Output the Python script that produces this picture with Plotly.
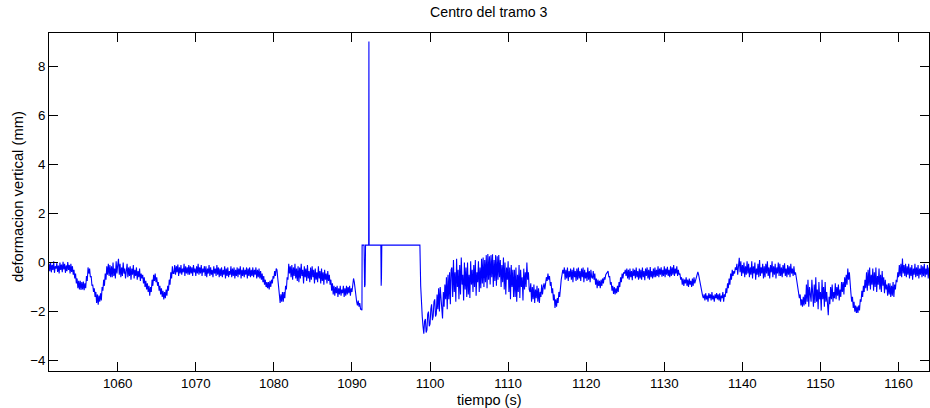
import numpy as np
import plotly.graph_objects as go

title_text = "Centro del tramo 3"
x_label = "tiempo (s)"
y_label = "deformacion vertical (mm)"
x_ticks = [1060, 1070, 1080, 1090, 1100, 1110, 1120, 1130, 1140, 1150, 1160]
y_ticks = [-4, -2, 0, 2, 4, 6, 8]
x_range = [1051.2, 1163.9]
y_range = [-4.42, 9.35]

sample_dt = 0.1   # seconds between samples
row_span = 2.0    # each row = 20 samples (2 s)

# deflection before the sensor event, rows start at 1051.2 s
pre_t0 = 1051.2
pre_rows = [
    [-0.05, -0.35, 0.02, -0.40, -0.10, -0.30, 0.05, -0.42, -0.15, -0.25, -0.02, -0.38, -0.12, -0.45, 0.00, -0.30, -0.08, -0.40, 0.03, -0.28],
    [-0.05, -0.42, -0.12, -0.35, 0.02, -0.30, -0.10, -0.45, -0.05, -0.38, -0.15, -0.50, -0.30, -0.65, -0.45, -0.85, -0.65, -1.05, -0.75, -1.10],
    [-0.75, -1.12, -0.80, -1.10, -0.78, -1.13, -0.85, -1.05, -0.55, -0.75, -0.20, -0.45, -0.25, -0.60, -0.55, -0.95, -0.90, -1.20, -1.05, -1.40],
    [-1.20, -1.65, -1.30, -1.72, -1.35, -1.60, -1.25, -1.55, -1.00, -1.15, -0.70, -0.95, -0.45, -0.70, -0.15, -0.50, -0.05, -0.55, -0.10, -0.60],
    [-0.15, -0.60, 0.00, -0.55, -0.25, -0.65, 0.05, -0.45, -0.10, 0.15, -0.50, -0.05, -0.60, -0.20, -0.55, 0.00, -0.45, -0.25, -0.65, -0.10],
    [-0.05, -0.60, -0.20, -0.55, -0.15, -0.70, -0.25, -0.50, -0.10, -0.65, -0.30, -0.55, -0.20, -0.70, -0.35, -0.60, -0.25, -0.75, -0.45, -0.65],
    [-0.50, -0.85, -0.60, -1.00, -0.75, -1.10, -0.85, -1.20, -0.95, -1.35, -1.00, -1.20, -0.70, -0.95, -0.50, -0.75, -0.45, -0.80, -0.60, -0.95],
    [-0.80, -1.15, -0.95, -1.30, -1.05, -1.40, -1.15, -1.50, -1.20, -1.45, -1.10, -1.35, -0.95, -1.15, -0.70, -0.90, -0.40, -0.65, -0.15, -0.45],
    [-0.45, -0.10, -0.50, -0.15, -0.40, -0.08, -0.55, -0.20, -0.45, -0.10, -0.50, -0.25, -0.40, -0.05, -0.55, -0.15, -0.45, -0.20, -0.50, -0.10],
    [-0.50, -0.15, -0.45, -0.20, -0.55, -0.10, -0.40, -0.25, -0.55, -0.15, -0.45, -0.05, -0.50, -0.20, -0.45, -0.10, -0.55, -0.25, -0.40, -0.15],
    [-0.55, -0.15, -0.60, -0.25, -0.45, -0.10, -0.55, -0.20, -0.50, -0.30, -0.60, -0.15, -0.45, -0.25, -0.55, -0.10, -0.50, -0.20, -0.60, -0.25],
    [-0.55, -0.20, -0.60, -0.30, -0.50, -0.15, -0.65, -0.25, -0.55, -0.20, -0.60, -0.35, -0.50, -0.15, -0.60, -0.25, -0.55, -0.20, -0.65, -0.30],
    [-0.55, -0.20, -0.60, -0.25, -0.50, -0.15, -0.65, -0.30, -0.55, -0.20, -0.60, -0.30, -0.50, -0.20, -0.65, -0.25, -0.55, -0.20, -0.60, -0.30],
    [-0.55, -0.20, -0.60, -0.30, -0.50, -0.20, -0.65, -0.30, -0.60, -0.25, -0.65, -0.35, -0.70, -0.45, -0.80, -0.55, -0.90, -0.70, -1.00, -0.80],
    [-1.05, -0.80, -1.10, -0.75, -1.00, -0.70, -0.85, -0.55, -0.65, -0.35, -0.55, -0.25, -0.30, -0.65, -0.90, -1.30, -1.65, -1.30, -1.60, -1.20],
    [-1.60, -1.20, -1.45, -0.95, -1.10, -0.60, -0.70, -0.05, -0.45, -0.15, -0.60, -0.10, -0.70, -0.20, -0.55, -0.05, -0.65, -0.25, -0.75, -0.15],
    [-0.80, -0.20, -0.65, -0.05, -0.55, -0.30, -0.85, -0.15, -0.60, -0.25, -0.75, -0.10, -0.65, -0.35, -0.80, -0.20, -0.70, -0.15, -0.60, -0.30],
    [-0.85, -0.25, -0.70, -0.40, -0.80, -0.15, -0.65, -0.35, -0.85, -0.25, -0.75, -0.40, -0.90, -0.30, -0.70, -0.45, -0.85, -0.35, -0.75, -0.50],
    [-0.90, -0.70, -1.15, -0.85, -1.30, -0.95, -1.35, -1.00, -1.25, -0.95, -1.40, -1.05, -1.30, -0.95, -1.35, -1.10, -1.25, -0.95, -1.40, -1.05],
    [-1.35, -0.95, -1.30, -1.00, -1.25, -0.95, -1.35, -1.05, -1.20, -0.90, -0.65, -0.80, -1.10, -1.50, -1.60, -1.75, -1.55, -1.80, -1.65, -1.90],
]

# sensor event (saturated plateau and spike)
event_t = [1091.2, 1091.28, 1091.3, 1091.55, 1091.62, 1091.68, 1091.74, 1092.14,
           1092.17, 1092.2, 1093.7, 1093.74, 1093.78, 1093.82, 1098.7]
event_v = [-1.9, -1.95, 0.71, 0.71, -1.0, -0.9, 0.71, 0.71,
           9.0, 0.71, 0.71, -0.95, -0.6, 0.71, 0.71]

# deflection after the event, rows start at 1098.8 s
post_t0 = 1098.8
post_rows = [
    [-0.95, -1.80, -2.20, -2.60, -2.90, -2.40, -2.30, -2.85, -2.75, -2.10, -2.00, -2.60, -2.50, -1.90, -1.70, -2.35, -2.20, -1.60, -1.50, -2.20],
    [-2.10, -1.30, -1.90, -1.05, -2.00, -1.00, -1.60, -2.10, -2.28, -1.20, -1.80, -0.90, -1.50, -0.60, -1.90, -0.50, -1.50, -0.40, -1.70, -0.30],
    [-0.20, -1.40, 0.10, -1.20, -0.40, -1.60, 0.15, -1.00, -0.30, -1.50, -0.10, -1.30, 0.20, -0.90, -0.50, -1.55, 0.00, -1.10, -0.20, -1.40],
    [0.00, -1.30, -0.50, -1.45, 0.05, -0.90, -0.30, -1.20, -0.10, -1.00, 0.10, -1.35, -0.40, -0.80, 0.05, -1.20, -0.20, -1.05, 0.15, -0.85],
    [0.20, -1.00, 0.10, -0.80, 0.30, -1.05, 0.35, -0.70, 0.25, -0.90, 0.30, -0.60, 0.34, -1.00, 0.10, -0.75, 0.30, -0.95, 0.25, -0.70],
    [0.30, -0.60, 0.10, -1.00, -0.10, -0.80, 0.20, -1.10, 0.00, -1.30, -0.20, -0.70, 0.05, -1.20, -0.20, -1.50, -0.10, -1.00, -0.30, -1.40],
    [-0.30, -1.40, -0.20, -1.60, -0.50, -1.20, -0.10, -1.45, -0.30, -1.00, -0.60, -1.55, -0.25, -1.10, -0.40, -1.00, 0.00, -0.70, -0.40, -1.10],
    [-1.20, -0.85, -1.60, -1.00, -1.50, -0.90, -1.65, -1.10, -1.45, -0.95, -1.60, -1.05, -1.65, -1.20, -1.40, -0.90, -1.30, -1.00, -0.85, -1.10],
    [-0.90, -0.60, -0.75, -0.45, -0.70, -0.55, -0.95, -0.80, -1.25, -1.05, -1.55, -1.30, -1.85, -1.50, -1.80, -1.45, -1.65, -1.20, -1.40, -0.90],
    [-0.70, -0.50, -0.30, -0.45, -0.20, -0.70, -0.30, -0.65, -0.20, -0.75, -0.35, -0.60, -0.25, -0.70, -0.30, -0.80, -0.20, -0.60, -0.35, -0.75],
    [-0.25, -0.70, -0.20, -0.65, -0.35, -0.75, -0.25, -0.60, -0.20, -0.80, -0.30, -0.65, -0.40, -0.75, -0.20, -0.70, -0.35, -0.80, -0.30, -0.60],
    [-0.65, -0.35, -0.70, -0.45, -0.90, -0.65, -1.05, -0.70, -0.95, -0.75, -1.05, -0.70, -0.95, -0.65, -0.85, -0.60, -0.70, -0.50, -0.45, -0.35],
    [-0.35, -0.60, -0.55, -0.90, -0.80, -1.15, -0.95, -1.28, -1.00, -1.30, -1.05, -1.25, -0.95, -1.20, -0.80, -1.00, -0.60, -0.80, -0.45, -0.65],
    [-0.40, -0.45, -0.30, -0.55, -0.25, -0.65, -0.30, -0.70, -0.25, -0.60, -0.35, -0.72, -0.25, -0.55, -0.30, -0.65, -0.20, -0.60, -0.35, -0.70],
    [-0.25, -0.65, -0.30, -0.70, -0.20, -0.60, -0.35, -0.72, -0.25, -0.55, -0.20, -0.65, -0.30, -0.70, -0.18, -0.60, -0.35, -0.65, -0.25, -0.60],
    [-0.20, -0.60, -0.30, -0.55, -0.15, -0.60, -0.25, -0.50, -0.20, -0.58, -0.30, -0.55, -0.15, -0.60, -0.25, -0.50, -0.18, -0.55, -0.30, -0.60],
    [-0.15, -0.55, -0.20, -0.50, -0.10, -0.55, -0.25, -0.45, -0.15, -0.55, -0.30, -0.50, -0.45, -0.70, -0.60, -0.90, -0.65, -0.95, -0.70, -0.85],
    [-0.60, -0.95, -0.70, -1.00, -0.65, -0.90, -0.75, -1.00, -0.65, -0.95, -0.60, -0.85, -0.70, -0.55, -0.45, -0.38, -0.50, -0.70, -0.85, -1.10],
    [-1.20, -1.35, -1.45, -1.30, -1.55, -1.25, -1.50, -1.35, -1.60, -1.25, -1.45, -1.30, -1.55, -1.20, -1.50, -1.35, -1.60, -1.30, -1.45, -1.25],
    [-1.50, -1.30, -1.55, -1.25, -1.60, -1.35, -1.45, -1.20, -1.60, -1.30, -1.40, -1.05, -1.25, -0.85, -1.05, -0.65, -0.90, -0.45, -0.70, -0.30],
    [-0.55, -0.35, -0.45, -0.20, -0.30, -0.05, -0.50, -0.10, 0.19, -0.40, 0.05, -0.55, -0.10, -0.45, 0.00, -0.60, -0.15, -0.50, 0.05, -0.45],
    [-0.05, -0.60, -0.20, -0.50, 0.05, -0.65, -0.15, -0.45, 0.00, -0.70, -0.25, -0.50, -0.05, -0.60, 0.10, -0.55, -0.20, -0.45, -0.05, -0.65],
    [-0.15, -0.60, -0.05, -0.45, 0.05, -0.55, -0.20, -0.65, -0.10, -0.40, 0.05, -0.60, -0.15, -0.50, -0.05, -0.65, -0.20, -0.45, 0.00, -0.55],
    [-0.05, -0.55, -0.20, -0.60, -0.10, -0.45, -0.03, -0.55, -0.25, -0.60, -0.10, -0.50, -0.15, -0.60, -0.05, -0.45, -0.25, -0.55, -0.15, -0.50],
    [-0.40, -0.60, -0.80, -1.00, -1.20, -1.45, -1.30, -1.75, -1.50, -1.80, -1.40, -1.75, -1.30, -1.70, -0.90, -1.60, -0.70, -1.80, -1.00, -1.40],
    [-1.60, -0.70, -1.40, -1.80, -0.90, -1.65, -0.60, -1.60, -1.10, -1.90, -0.80, -1.50, -1.20, -1.95, -0.70, -1.50, -1.00, -1.80, -0.80, -1.60],
    [-1.20, -1.90, -2.15, -1.40, -1.70, -1.00, -1.50, -0.90, -1.60, -1.20, -1.45, -0.85, -1.50, -1.00, -1.35, -0.90, -1.55, -1.10, -1.40, -0.80],
    [-1.20, -0.80, -1.30, -0.60, -1.00, -0.50, -0.90, -0.25, -0.70, -0.40, -1.05, -1.25, -1.60, -1.40, -1.85, -1.60, -2.00, -1.75, -2.05, -1.80],
    [-2.05, -1.75, -1.95, -1.50, -1.60, -1.15, -1.40, -0.95, -1.20, -0.70, -1.05, -0.40, -1.15, -0.30, -0.95, -0.20, -1.10, -0.50, -0.90, -0.25],
    [-1.15, -0.40, -1.00, -0.20, -1.20, -0.55, -0.90, -0.25, -1.10, -0.50, -1.20, -0.35, -0.95, -0.60, -1.25, -0.70, -1.10, -0.90, -1.35, -0.85],
    [-1.30, -0.85, -1.40, -0.95, -1.35, -0.80, -1.40, -0.90, -1.10, -0.70, -0.80, -0.40, -0.60, -0.10, -0.55, -0.05, -0.60, 0.16, -0.45, -0.10],
    [-0.55, -0.05, -0.60, -0.15, -0.50, -0.05, -0.65, -0.20, -0.55, -0.10, -0.70, -0.25, -0.50, -0.05, -0.60, -0.20, -0.55, -0.10, -0.65, -0.25],
    [-0.50, -0.10, -0.60, -0.15, -0.55, -0.05, -0.60, -0.25, -0.50, -0.10, -0.65, -0.20, -0.55, -0.15, -0.60, -0.10, -0.50, -0.20, -0.55, -0.15],
]


def rows_to_xy(t0, rows):
    xs, ys = [], []
    for i, row in enumerate(rows):
        for j, v in enumerate(row):
            xs.append(round(t0 + row_span * i + sample_dt * j, 3))
            ys.append(v)
    return xs, ys


px, pv = rows_to_xy(pre_t0, pre_rows)
qx, qv = rows_to_xy(post_t0, post_rows)
t_all = px + event_t + qx
v_all = pv + event_v + qv

fig = go.Figure()
fig.add_trace(go.Scatter(
    x=t_all, y=v_all, mode="lines",
    line=dict(color="#0000ff", width=1.1),
    showlegend=False, hoverinfo="skip",
))

font_family = "Liberation Sans, Arial, sans-serif"
axis_common = dict(
    showgrid=False, zeroline=False,
    showline=True, linecolor="black", linewidth=1, mirror="allticks",
    ticks="inside", ticklen=9, tickwidth=1, tickcolor="black",
    tickfont=dict(family=font_family, size=13.3, color="black"),
)

fig.update_xaxes(range=x_range, tickvals=x_ticks, **axis_common)
fig.update_yaxes(range=y_range, tickvals=y_ticks, **axis_common)

fig.update_layout(
    width=930, height=408,
    margin=dict(l=49, r=1, t=33, b=37),
    paper_bgcolor="white", plot_bgcolor="white",
    font=dict(family=font_family, size=13, color="black"),
    annotations=[
        dict(text=title_text, x=0.5, y=1, xref="paper", yref="paper",
             xanchor="center", yanchor="bottom", yshift=11, showarrow=False,
             font=dict(size=14.2)),
        dict(text=x_label, x=0.5, y=0, xref="paper", yref="paper",
             xanchor="center", yanchor="middle", yshift=-29, showarrow=False,
             font=dict(size=14.5)),
        dict(text=y_label, x=0, y=0.5, xref="paper", yref="paper",
             xanchor="center", yanchor="middle", xshift=-31, yshift=5, textangle=-90,
             showarrow=False, font=dict(size=14.8)),
    ],
)

fig.write_html("out.html")
